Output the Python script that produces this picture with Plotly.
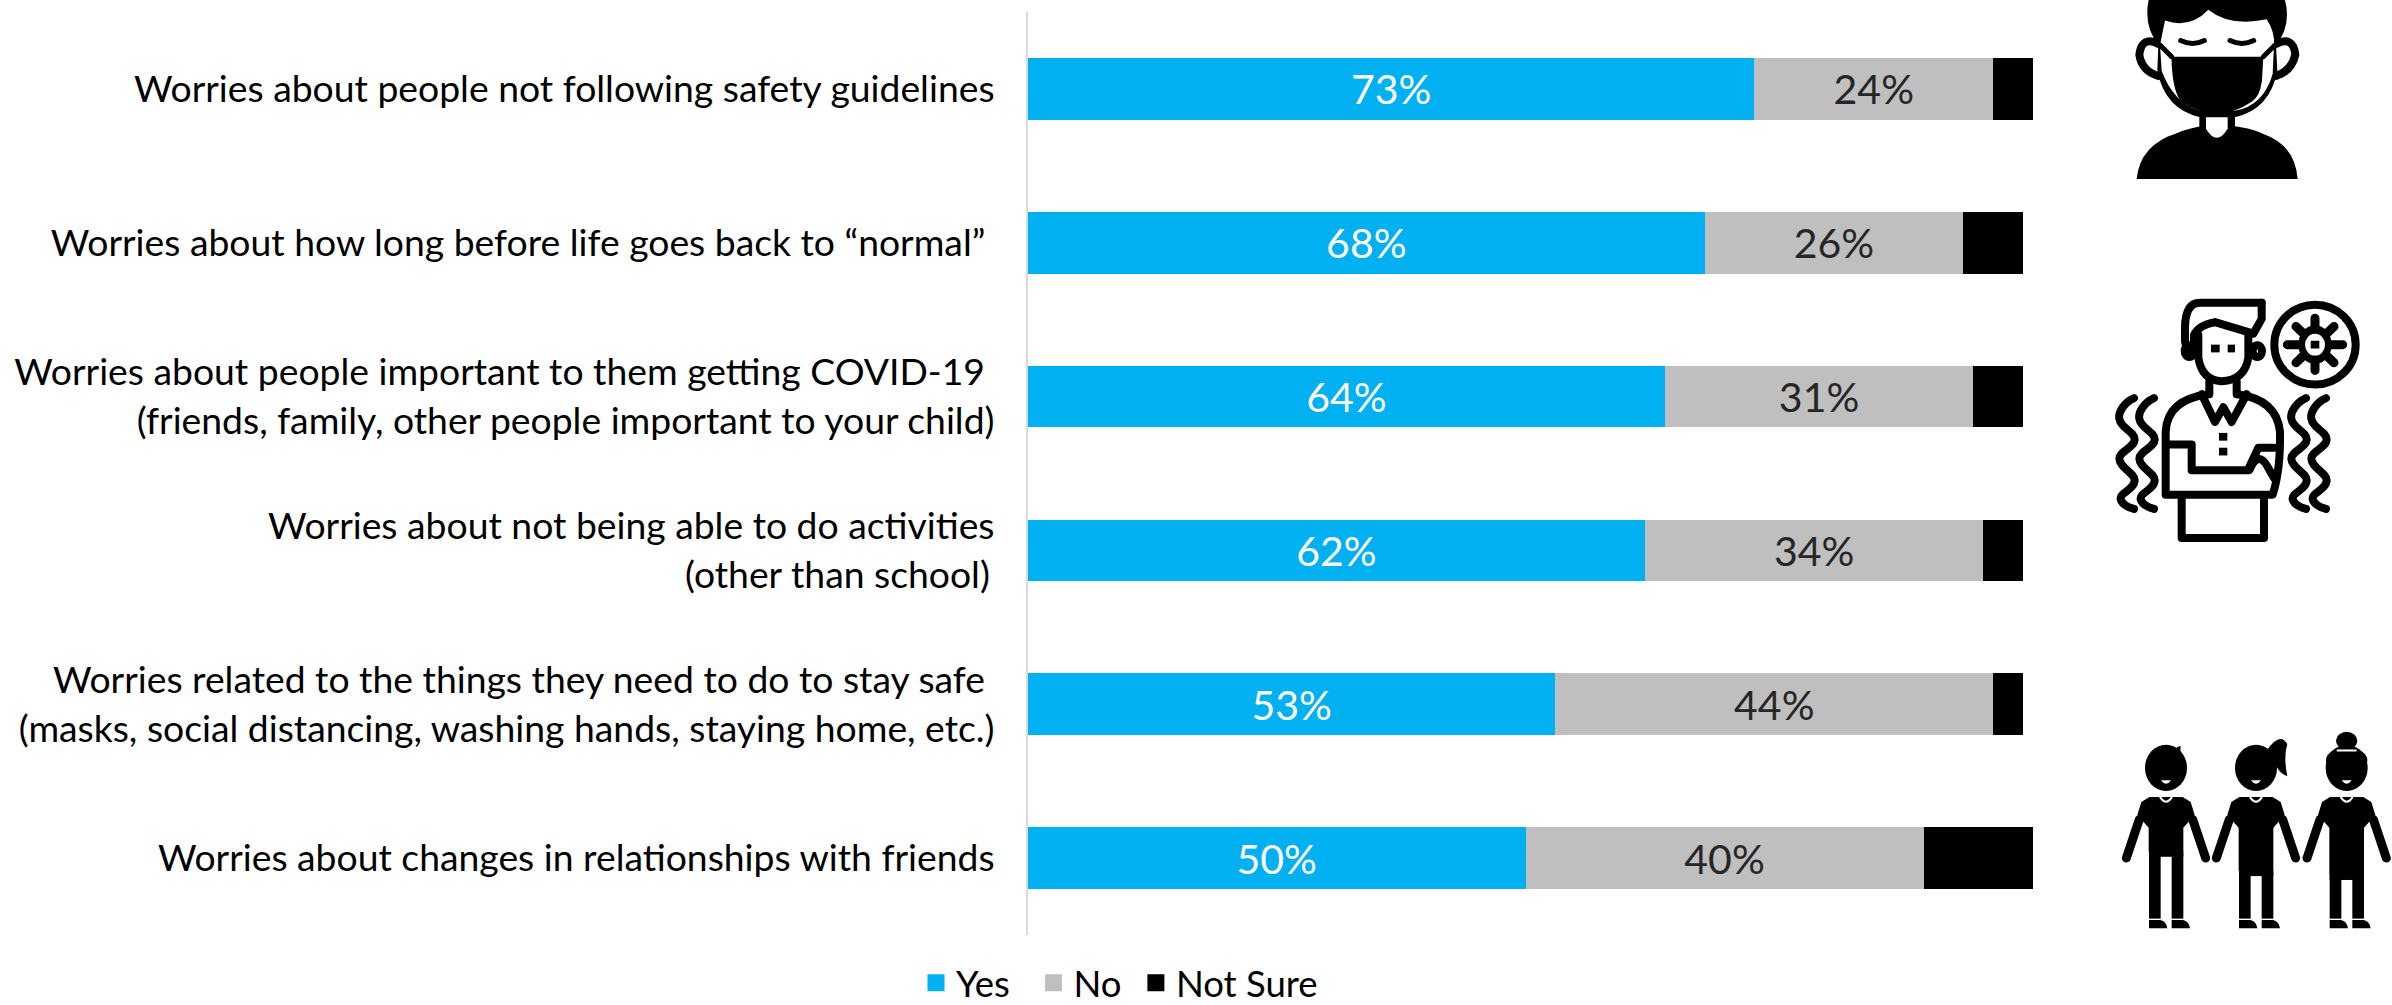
import base64
import plotly.graph_objects as go

categories = [
    "Worries about people not following safety guidelines",
    "Worries about how long before life goes back to “normal”\u00a0",
    "Worries about people important to them getting COVID-19\u00a0<br>(friends, family, other people important to your child)",
    "Worries about not being able to do activities<br>(other than school)\u2009",
    "Worries related to the things they need to do to stay safe\u00a0<br>(masks, social distancing, washing hands, staying home, etc.)",
    "Worries about changes in relationships with friends",
]
yes_values = [73, 68, 64, 62, 53, 50]
no_values = [24, 26, 31, 34, 44, 40]
not_sure_values = [4, 6, 5, 4, 3, 11]

W, H = 2392, 1005
L, R, T, B = 1028, 2034, 12, 935
FONT = "Lato"


def wave(x):
    return (f'<path class="s" d="M{x+20},618 C{x-10},625 {x-28},640 {x-24},650 C{x-20},665 {x+22},670 {x+22},682 '
            f'C{x+22},695 {x-24},700 {x-24},712 C{x-24},725 {x+22},735 {x+22},745 '
            f'C{x+22},760 {x-24},765 {x-20},775 Q{x-15},785 {x+20},790"/>')


def kid(cx, skirt=False, shorts=False):
    hem = 1352 if skirt else (1358 if shorts else 1322)
    tw = 52
    leg_l = cx - tw + 1
    leg_r = cx + 17
    lw = 35
    out = f'<ellipse cx="{cx}" cy="1192" rx="63" ry="36"/>'
    out += f'<path d="M{cx-15},1211 Q{cx},1222 {cx+15},1211 Z" fill="#fff"/>'
    out += f'<path d="M{cx-tw-22},1245 L{cx-tw+2},1237 H{cx+tw-2} L{cx+tw+22},1245 L{cx+tw+34},1265 L{cx+tw},1285 V{hem} H{cx-tw} V1285 L{cx-tw-34},1265 Z"/>'
    out += f'<path d="M{cx-18},1237 Q{cx},1252 {cx+18},1237" fill="none" stroke="#fff" stroke-width="2"/>'
    out += f'<path class="a" d="M{cx-tw-28},1272 L{cx-119},1332 M{cx+tw+28},1272 L{cx+119},1332"/>'
    out += f'<rect x="{leg_l}" y="{hem+2}" width="{lw}" height="{1424-hem}"/><rect x="{leg_r}" y="{hem+2}" width="{lw}" height="{1424-hem}"/>'
    out += f'<rect x="{leg_l}" y="{hem-2}" width="{leg_r+lw-leg_l}" height="10"/>'
    out += f'<path d="M{leg_l},1428 H{leg_l+34} Q{leg_l+52},1430 {leg_l+55},1441 H{leg_l} Z M{leg_r},1428 H{leg_r+34} Q{leg_r+52},1430 {leg_r+55},1441 H{leg_r} Z"/>'
    return out


icons_svg = f'''<svg xmlns="http://www.w3.org/2000/svg" width="342" height="1005" viewBox="0 0 342 1005">
<style>*{{vector-effect:non-scaling-stroke}}
.s{{fill:none;stroke:#000;stroke-width:8;stroke-linejoin:round;stroke-linecap:round}}
.t{{fill:none;stroke:#000;stroke-width:5;stroke-linecap:round}}
.a{{fill:none;stroke:#000;stroke-width:9;stroke-linecap:round}}</style>
<g transform="scale(0.33333,0.6442)">
<path class="s" d="M325,68 Q275,55 268,85 Q275,110 325,118"/>
<path class="s" d="M678,68 Q730,55 736,85 Q725,110 678,118"/>
<path d="M296,0 Q280,40 325,70 L322,110 Q345,170 450,182 H555 Q660,170 682,110 L678,70 Q725,40 705,0 Z"/>
<path fill="#fff" d="M345,32 Q420,45 475,15 Q540,42 650,30 Q675,50 672,70 L668,115 Q640,165 555,172 H450 Q370,160 335,110 L330,70 Z"/>
<path d="M365,88 H640 L636,125 Q630,150 605,158 Q500,195 395,158 Q370,145 365,100 Z"/>
<path class="t" d="M330,70 L365,88 M640,88 L675,70"/>
<path class="a" style="stroke-width:5" d="M392,63 Q428,72 463,63 M540,63 Q576,72 611,63"/>
<path d="M448,178 H555 V205 H448 Z"/>
<path d="M260,278 Q270,225 380,207 Q420,198 468,195 Q500,225 533,195 Q600,198 640,208 Q735,225 743,278 Z"/>
<path fill="#fff" d="M468,182 H533 V200 Q500,228 468,200 Z"/>
<path class="s" d="M635,470 H450 Q405,470 405,510 V530 Q410,545 428,545"/>
<path class="s" d="M432,528 V520 Q445,505 495,500 L610,518 L635,495 V470"/>
<path class="s" d="M445,520 V555 Q455,590 515,592 Q585,590 595,555 V520"/>
<ellipse class="s" cx="418" cy="545" rx="14" ry="9"/><ellipse class="s" cx="622" cy="545" rx="14" ry="9"/>
<rect x="483" y="535" width="26" height="12"/><rect x="533" y="535" width="22" height="12"/>
<path class="s" d="M478,592 V612 M560,592 V612"/>
<path class="s" d="M455,612 L495,655 L520,632 L545,655 L590,612"/>
<path class="s" d="M475,612 Q352,620 347,670 V768 H668 Q692,730 690,670 Q680,620 562,612"/>
<path class="s" d="M395,770 V835 H642 V770"/>
<path class="s" d="M352,690 H425 V730 H598 Q622,700 650,722 L672,742"/>
<path class="s" d="M672,695 L625,695 L598,725"/>
<rect x="507" y="672" width="25" height="12"/><rect x="507" y="695" width="25" height="12"/>
<ellipse class="s" cx="795" cy="535" rx="122" ry="62"/>
<path class="a" d="M795,494 V575 M712,535 H878 M738,507 L852,563 M852,507 L738,563"/>
<ellipse cx="795" cy="535" rx="50" ry="30"/>
<ellipse cx="795" cy="535" rx="30" ry="17" fill="#fff"/>
<rect x="782" y="529" width="26" height="12"/>
{wave(232)}{wave(292)}{wave(748)}{wave(808)}
{kid(348)}
<path d="M380,1160 L392,1158 L390,1172 Z"/>
{kid(618, skirt=True)}
<path d="M650,1165 Q690,1135 712,1155 Q700,1175 712,1205 Q680,1200 670,1175 Z"/>
{kid(890, shorts=True)}
<ellipse cx="890" cy="1150" rx="32" ry="14"/><ellipse cx="890" cy="1180" rx="62" ry="20"/>
<path d="M860,1165 H920" stroke="#fff" stroke-width="2" fill="none"/>
</g></svg>'''
icon_src = "data:image/svg+xml;base64," + base64.b64encode(icons_svg.encode()).decode()

fig = go.Figure()
series = [("Yes", yes_values, "#00B0F0", "#FFFFFF", "\u00a0\u00a0"), ("No", no_values, "#BFBFBF", "#262626", "\u00a0"), ("Not Sure", not_sure_values, "#000000", None, "")]
for name, vals, color, tcol, pad in series:
    fig.add_trace(go.Bar(
        y=categories, x=vals, name=name, orientation="h", showlegend=False, legendgroup=name,
        marker=dict(color=color, line=dict(width=0)),
        texttemplate="%{x}%" if tcol else None,
        textposition="inside" if tcol else "none",
        insidetextanchor="middle", textangle=0,
        insidetextfont=dict(family=FONT, size=41, color=tcol or "#000"),
        hoverinfo="x+y+name",
    ))
    # legend swatch: bar legend symbols are enlarged through their outline
    fig.add_trace(go.Bar(
        y=[None], x=[None], name=name + pad, orientation="h",
        legendgroup=name, showlegend=True,
        marker=dict(color=color, line=dict(width=5, color=color)),
    ))

fig.update_layout(
    width=W, height=H, autosize=False,
    barmode="stack", bargap=0.6,
    margin=dict(l=L, r=W - R, t=T, b=H - B, pad=0, autoexpand=False),
    paper_bgcolor="#FFFFFF", plot_bgcolor="#FFFFFF",
    font=dict(family=FONT, color="#000000"),
    xaxis=dict(range=[0, 101.1], visible=False, fixedrange=True),
    yaxis=dict(
        categoryorder="array", categoryarray=categories, autorange="reversed",
        showline=True, linecolor="#D9D9D9", linewidth=2,
        showgrid=False, zeroline=False, ticks="", ticklabelstandoff=24,
        tickfont=dict(family=FONT, size=37.3, color="#000000"), fixedrange=True,
    ),
    legend=dict(
        orientation="h", xanchor="left", yanchor="middle",
        x=(916 - L) / (R - L), y=(B - 983) / (B - T),
        font=dict(family=FONT, size=36.5, color="#000000"),
        itemclick=False, itemdoubleclick=False, bgcolor="rgba(0,0,0,0)",
    ),
    images=[dict(
        source=icon_src, xref="paper", yref="paper",
        x=(2050 - L) / (R - L), sizex=342 / (R - L),
        y=(B - 0) / (B - T), sizey=1005 / (B - T),
        xanchor="left", yanchor="top", sizing="stretch", layer="above",
    )],
)
fig.write_html("out.html", config=dict(displayModeBar=False),
               post_script="document.body.style.margin='0';document.documentElement.style.overflow='hidden';")
